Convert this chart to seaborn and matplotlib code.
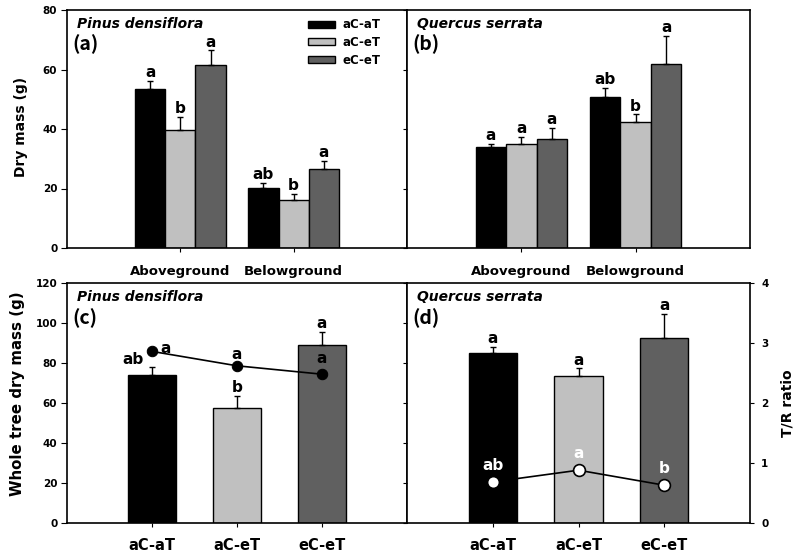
import numpy as np
import pandas as pd
import matplotlib
matplotlib.use("Agg")
import matplotlib.pyplot as plt
from matplotlib.patches import Patch
import seaborn as sns

sns.set_style("white")
plt.rcParams['font.family'] = ['DejaVu Sans']
for k in ["text.color", "axes.labelcolor", "xtick.color", "ytick.color", "axes.edgecolor"]:
    plt.rcParams[k] = "black"

# ---------------- data ----------------
treatments = ["aC-aT", "aC-eT", "eC-eT"]
parts = ["Aboveground", "Belowground"]
colors = ["#000000", "#c0c0c0", "#606060"]

# panel (a) Pinus densiflora, dry mass by part
pd_above = [53.5, 39.7, 61.5]
pd_above_err = [2.8, 4.3, 4.9]
pd_below = [20.1, 16.2, 26.5]
pd_below_err = [1.9, 2.0, 2.9]
pd_above_let = ["a", "b", "a"]
pd_below_let = ["ab", "b", "a"]

# panel (b) Quercus serrata, dry mass by part
qs_above = [33.8, 34.9, 36.5]
qs_above_err = [1.3, 2.3, 3.9]
qs_below = [50.8, 42.4, 61.9]
qs_below_err = [3.0, 2.5, 9.5]
qs_above_let = ["a", "a", "a"]
qs_below_let = ["ab", "b", "a"]

# panel (c) Pinus densiflora, whole tree dry mass and T/R ratio
pd_whole = [73.9, 57.7, 89.1]
pd_whole_err = [4.3, 5.8, 6.4]
pd_whole_let = ["ab", "b", "a"]
pd_tr = [2.86, 2.62, 2.48]
pd_tr_let = ["a", "a", "a"]

# panel (d) Quercus serrata, whole tree dry mass and T/R ratio
qs_whole = [84.9, 73.5, 92.6]
qs_whole_err = [3.3, 3.8, 12.0]
qs_whole_let = ["a", "a", "a"]
qs_tr = [0.685, 0.88, 0.63]
qs_tr_let = ["ab", "a", "b"]

W, H = 801, 558
fig = plt.figure(figsize=(W / 100, H / 100), dpi=100)


def px_axes(x0, y0, x1, y1):
    return fig.add_axes([x0 / W, 1 - y1 / H, (x1 - x0) / W, (y1 - y0) / H])


ax_a = px_axes(67, 10, 407, 248)
ax_b = px_axes(407, 10, 750, 248)
ax_c = px_axes(67, 283, 407, 523)
ax_d = px_axes(407, 283, 750, 523)

tick_font = dict(fontsize=7.5, fontweight="bold")
let_font = dict(fontsize=11, fontweight="bold")
ylab_font = dict(fontweight="bold")


def style_frame(ax):
    for s in ax.spines.values():
        s.set_visible(True)
        s.set_color("black")
        s.set_linewidth(1.2)


def errbars(ax, patches, errs):
    for p, e in zip(patches, errs):
        xc = p.get_x() + p.get_width() / 2
        top = p.get_height()
        ax.errorbar([xc], [top], yerr=[[0], [e]], fmt="none", ecolor="black",
                    elinewidth=1.0, capsize=2.5, capthick=1.0, zorder=3)


def letters(ax, patches, errs, labs, dx=None):
    for i, (p, e, l) in enumerate(zip(patches, errs, labs)):
        xc = p.get_x() + p.get_width() / 2
        off = (0, 6) if dx is None else dx[i]
        ax.annotate(l, (xc, p.get_height() + e), xytext=off, textcoords="offset points",
                    ha="center", va="center", color="black", **let_font)


def part_panel(ax, above, above_err, below, below_err, above_let, below_let):
    df = pd.DataFrame({
        "part": [parts[0]] * 3 + [parts[1]] * 3,
        "trt": treatments * 2,
        "val": above + below,
    })
    sns.barplot(data=df, x="part", y="val", hue="trt", order=parts, hue_order=treatments,
                palette=colors, width=0.8, errorbar=None, edgecolor="black",
                linewidth=1.0, ax=ax, legend=False, saturation=1)
    patches = sorted(ax.patches, key=lambda p: p.get_x())
    errs = [above_err[0], above_err[1], above_err[2], below_err[0], below_err[1], below_err[2]]
    labs = above_let + below_let
    errbars(ax, patches, errs)
    letters(ax, patches, errs, labs)
    ax.set_xlim(-1, 2)
    ax.set_ylim(0, 80)
    ax.set_xlabel("")
    ax.set_ylabel("")
    ax.set_xticks([0, 1])
    ax.set_xticklabels(parts, fontsize=9.5, fontweight="bold")
    ax.tick_params(axis="x", direction="out", length=3, width=0.8, bottom=True, pad=9)
    style_frame(ax)
    return patches


def whole_panel(ax, whole, whole_err, whole_let, dx=None):
    df = pd.DataFrame({"trt": treatments, "val": whole})
    sns.barplot(data=df, x="trt", y="val", hue="trt", order=treatments, hue_order=treatments,
                palette=colors, width=0.56, errorbar=None, edgecolor="black",
                linewidth=1.0, ax=ax, legend=False, saturation=1)
    patches = sorted(ax.patches, key=lambda p: p.get_x())
    errbars(ax, patches, whole_err)
    letters(ax, patches, whole_err, whole_let, dx)
    ax.set_xlim(-1, 3)
    ax.set_ylim(0, 120)
    ax.set_xlabel("")
    ax.set_ylabel("")
    ax.set_xticks([0, 1, 2])
    ax.set_xticklabels(treatments, fontsize=10.5, fontweight="bold")
    ax.tick_params(axis="x", direction="out", length=3, width=0.8, bottom=True, pad=8)
    style_frame(ax)
    return patches


# ---- panel a ----
part_panel(ax_a, pd_above, pd_above_err, pd_below, pd_below_err, pd_above_let, pd_below_let)
ax_a.set_yticks([0, 20, 40, 60, 80])
ax_a.set_yticklabels(["0", "20", "40", "60", "80"], **tick_font)
ax_a.tick_params(axis="y", direction="out", length=4, width=0.8, left=True, pad=3)
ax_a.set_ylabel("Dry mass (g)", fontsize=10, **ylab_font)
ax_a.yaxis.label.set_va("center")
ax_a.yaxis.set_label_coords(-0.135, 0.508)

handles = [Patch(facecolor=c, edgecolor="black", linewidth=1.0) for c in colors]
leg = ax_a.legend(handles, treatments, loc="upper right", bbox_to_anchor=(0.935, 0.985),
                  frameon=False, prop=dict(size=8.5, weight="bold"),
                  handlelength=2.3, handleheight=0.55, labelspacing=0.4, handletextpad=0.6,
                  borderaxespad=0.0)

# ---- panel b ----
part_panel(ax_b, qs_above, qs_above_err, qs_below, qs_below_err, qs_above_let, qs_below_let)
ax_b.set_yticks([0, 20, 40, 60, 80])
ax_b.set_yticklabels([])
ax_b.tick_params(axis="y", direction="out", length=3, width=0.8, left=True)

# ---- panel c ----
whole_panel(ax_c, pd_whole, pd_whole_err, pd_whole_let, dx=[(-14, 5), (0, 6), (0, 6)])
ax_c.set_yticks([0, 20, 40, 60, 80, 100, 120])
ax_c.set_yticklabels([str(v) for v in [0, 20, 40, 60, 80, 100, 120]], **tick_font)
ax_c.tick_params(axis="y", direction="out", length=4, width=0.8, left=True, pad=3)
ax_c.set_ylabel("Whole tree dry mass (g)", fontsize=10.8, **ylab_font)
ax_c.yaxis.label.set_va("center")
ax_c.yaxis.set_label_coords(-0.147, 0.5375)

tw_c = ax_c.twinx()
sns.lineplot(x=np.arange(3), y=pd_tr, ax=tw_c, color="black", linewidth=1.2, marker="o",
             markersize=7.5, markerfacecolor="black", markeredgecolor="black", zorder=5)
tw_c.set_ylim(0, 4)
tw_c.set_xlim(-1, 3)
tw_c.set_yticks([])
tw_c.set_ylabel("")
for s in tw_c.spines.values():
    s.set_visible(False)
for i, (v, l, off) in enumerate(zip(pd_tr, pd_tr_let, [(10, 2), (0, 8), (0, 11)])):
    tw_c.annotate(l, (i, v), xytext=off, textcoords="offset points", ha="center",
                  va="center", color="black", **let_font)

# ---- panel d ----
whole_panel(ax_d, qs_whole, qs_whole_err, qs_whole_let)
ax_d.set_yticks([0, 20, 40, 60, 80, 100, 120])
ax_d.set_yticklabels([])
ax_d.tick_params(axis="y", direction="out", length=3, width=0.8, left=True)

tw_d = ax_d.twinx()
sns.lineplot(x=np.arange(3), y=qs_tr, ax=tw_d, color="black", linewidth=1.2, marker="o",
             markersize=8.5, markerfacecolor="white", markeredgecolor="black",
             markeredgewidth=1.2, zorder=5)
tw_d.set_ylim(0, 4)
tw_d.set_xlim(-1, 3)
tw_d.set_yticks([0, 1, 2, 3, 4])
tw_d.set_yticklabels(["0", "1", "2", "3", "4"], **tick_font)
tw_d.tick_params(axis="y", direction="out", length=3, width=0.8, right=True, pad=5)
tw_d.set_ylabel("T/R ratio", fontsize=10, **ylab_font)
tw_d.yaxis.label.set_va("center")
tw_d.yaxis.set_label_coords(1.11, 0.5)
for s in tw_d.spines.values():
    s.set_visible(False)
for i, (v, l) in enumerate(zip(qs_tr, qs_tr_let)):
    tw_d.annotate(l, (i, v), xytext=(0, 12), textcoords="offset points", ha="center",
                  va="center", color="white", **let_font)

# ---- species labels and panel letters ----
for ax, sp, tag in [(ax_a, "Pinus densiflora", "(a)"), (ax_b, "Quercus serrata", "(b)"),
                    (ax_c, "Pinus densiflora", "(c)"), (ax_d, "Quercus serrata", "(d)")]:
    ax.text(0.03, 0.94, sp, transform=ax.transAxes, fontsize=10, fontweight="bold",
            fontstyle="italic", ha="left", va="center", color="black")
    ax.text(0.015, 0.855, tag, transform=ax.transAxes, fontsize=14, fontweight="bold",
            family=["Noto Sans CJK KR", "DejaVu Sans"], ha="left", va="center", color="black")

fig.savefig("out.png", dpi=100)
